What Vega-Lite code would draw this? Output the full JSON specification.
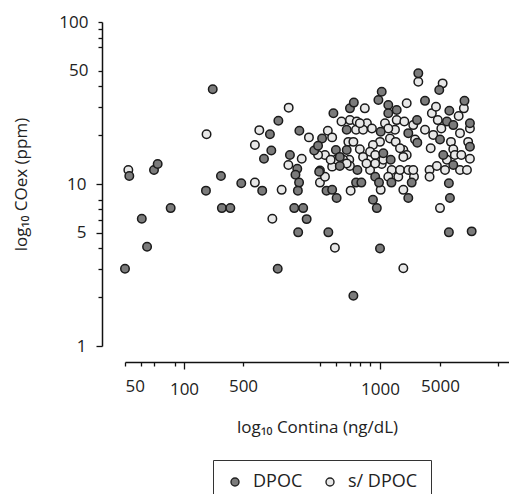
{
  "$schema": "https://vega.github.io/schema/vega-lite/v6.json",
  "width": 407,
  "height": 324,
  "autosize": {"type": "none"},
  "padding": {"left": 102, "top": 22, "right": 0, "bottom": 148},
  "background": "white",
  "config": {
    "view": {"stroke": null},
    "font": "Open Sans",
    "axis": {"labelFont": "Open Sans", "titleFont": "Open Sans", "labelColor": "#222", "titleColor": "#222", "titleFontWeight": "normal", "domainColor": "#111", "tickColor": "#111", "domainWidth": 1.5, "tickWidth": 1.3, "grid": false, "labelOverlap": false}
  },
  "datasets": {
    "pts": [
      {"x": 52, "y": 12.2, "g": "s/ DPOC"},
      {"x": 185, "y": 20.3, "g": "s/ DPOC"},
      {"x": 531, "y": 10.2, "g": "s/ DPOC"},
      {"x": 580, "y": 6.1, "g": "s/ DPOC"},
      {"x": 531, "y": 17.4, "g": "s/ DPOC"},
      {"x": 543, "y": 21.5, "g": "s/ DPOC"},
      {"x": 608, "y": 9.2, "g": "s/ DPOC"},
      {"x": 630, "y": 29.6, "g": "s/ DPOC"},
      {"x": 698, "y": 19.4, "g": "s/ DPOC"},
      {"x": 629, "y": 13.1, "g": "s/ DPOC"},
      {"x": 673, "y": 14.3, "g": "s/ DPOC"},
      {"x": 796, "y": 4.04, "g": "s/ DPOC"},
      {"x": 1870, "y": 3.02, "g": "s/ DPOC"},
      {"x": 5000, "y": 7.1, "g": "s/ DPOC"},
      {"x": 1870, "y": 9.2, "g": "s/ DPOC"},
      {"x": 862, "y": 9.1, "g": "s/ DPOC"},
      {"x": 738, "y": 10.2, "g": "s/ DPOC"},
      {"x": 757, "y": 11.1, "g": "s/ DPOC"},
      {"x": 768, "y": 21.3, "g": "s/ DPOC"},
      {"x": 785, "y": 19.4, "g": "s/ DPOC"},
      {"x": 757, "y": 15.1, "g": "s/ DPOC"},
      {"x": 800, "y": 14.1, "g": "s/ DPOC"},
      {"x": 785, "y": 12.8, "g": "s/ DPOC"},
      {"x": 823, "y": 24.3, "g": "s/ DPOC"},
      {"x": 926, "y": 29.3, "g": "s/ DPOC"},
      {"x": 859, "y": 24.8, "g": "s/ DPOC"},
      {"x": 889, "y": 24.3, "g": "s/ DPOC"},
      {"x": 886, "y": 21.6, "g": "s/ DPOC"},
      {"x": 852, "y": 18.2, "g": "s/ DPOC"},
      {"x": 874, "y": 18.2, "g": "s/ DPOC"},
      {"x": 903, "y": 16.4, "g": "s/ DPOC"},
      {"x": 918, "y": 14.7, "g": "s/ DPOC"},
      {"x": 856, "y": 14.1, "g": "s/ DPOC"},
      {"x": 859, "y": 12.9, "g": "s/ DPOC"},
      {"x": 951, "y": 12.2, "g": "s/ DPOC"},
      {"x": 934, "y": 13.4, "g": "s/ DPOC"},
      {"x": 1019, "y": 9.2, "g": "s/ DPOC"},
      {"x": 936, "y": 23.7, "g": "s/ DPOC"},
      {"x": 960, "y": 22.0, "g": "s/ DPOC"},
      {"x": 1143, "y": 23.7, "g": "s/ DPOC"},
      {"x": 1000, "y": 18.2, "g": "s/ DPOC"},
      {"x": 965, "y": 17.4, "g": "s/ DPOC"},
      {"x": 951, "y": 15.8, "g": "s/ DPOC"},
      {"x": 976, "y": 15.1, "g": "s/ DPOC"},
      {"x": 1047, "y": 13.3, "g": "s/ DPOC"},
      {"x": 1369, "y": 12.2, "g": "s/ DPOC"},
      {"x": 1249, "y": 11.1, "g": "s/ DPOC"},
      {"x": 1633, "y": 11.1, "g": "s/ DPOC"},
      {"x": 1710, "y": 12.2, "g": "s/ DPOC"},
      {"x": 2136, "y": 12.2, "g": "s/ DPOC"},
      {"x": 2488, "y": 11.1, "g": "s/ DPOC"},
      {"x": 2440, "y": 12.2, "g": "s/ DPOC"},
      {"x": 1495, "y": 21.6, "g": "s/ DPOC"},
      {"x": 1307, "y": 19.1, "g": "s/ DPOC"},
      {"x": 1523, "y": 18.2, "g": "s/ DPOC"},
      {"x": 1565, "y": 24.8, "g": "s/ DPOC"},
      {"x": 1920, "y": 24.3, "g": "s/ DPOC"},
      {"x": 2047, "y": 31.5, "g": "s/ DPOC"},
      {"x": 1870, "y": 16.2, "g": "s/ DPOC"},
      {"x": 2047, "y": 15.1, "g": "s/ DPOC"},
      {"x": 2440, "y": 23.1, "g": "s/ DPOC"},
      {"x": 2560, "y": 18.8, "g": "s/ DPOC"},
      {"x": 2794, "y": 42.8, "g": "s/ DPOC"},
      {"x": 3344, "y": 21.6, "g": "s/ DPOC"},
      {"x": 3895, "y": 16.6, "g": "s/ DPOC"},
      {"x": 3780, "y": 12.2, "g": "s/ DPOC"},
      {"x": 3780, "y": 11.1, "g": "s/ DPOC"},
      {"x": 4170, "y": 20.1, "g": "s/ DPOC"},
      {"x": 4020, "y": 27.3, "g": "s/ DPOC"},
      {"x": 4490, "y": 30.0, "g": "s/ DPOC"},
      {"x": 5160, "y": 41.8, "g": "s/ DPOC"},
      {"x": 4710, "y": 24.8, "g": "s/ DPOC"},
      {"x": 5080, "y": 22.0, "g": "s/ DPOC"},
      {"x": 4600, "y": 12.9, "g": "s/ DPOC"},
      {"x": 5310, "y": 12.2, "g": "s/ DPOC"},
      {"x": 5430, "y": 14.1, "g": "s/ DPOC"},
      {"x": 5700, "y": 18.2, "g": "s/ DPOC"},
      {"x": 5860, "y": 16.4, "g": "s/ DPOC"},
      {"x": 5970, "y": 15.1, "g": "s/ DPOC"},
      {"x": 6250, "y": 26.3, "g": "s/ DPOC"},
      {"x": 6350, "y": 20.6, "g": "s/ DPOC"},
      {"x": 6350, "y": 12.2, "g": "s/ DPOC"},
      {"x": 6450, "y": 15.1, "g": "s/ DPOC"},
      {"x": 6650, "y": 29.3, "g": "s/ DPOC"},
      {"x": 7150, "y": 22.0, "g": "s/ DPOC"},
      {"x": 7000, "y": 18.2, "g": "s/ DPOC"},
      {"x": 7150, "y": 14.3, "g": "s/ DPOC"},
      {"x": 6900, "y": 12.2, "g": "s/ DPOC"},
      {"x": 731, "y": 15.1, "g": "s/ DPOC"},
      {"x": 779, "y": 14.1, "g": "s/ DPOC"},
      {"x": 830, "y": 14.1, "g": "s/ DPOC"},
      {"x": 845, "y": 13.4, "g": "s/ DPOC"},
      {"x": 918, "y": 21.6, "g": "s/ DPOC"},
      {"x": 903, "y": 23.7, "g": "s/ DPOC"},
      {"x": 1249, "y": 22.0, "g": "s/ DPOC"},
      {"x": 1710, "y": 16.6, "g": "s/ DPOC"},
      {"x": 1870, "y": 14.7, "g": "s/ DPOC"},
      {"x": 1093, "y": 14.1, "g": "s/ DPOC"},
      {"x": 976, "y": 13.4, "g": "s/ DPOC"},
      {"x": 50, "y": 3.0, "g": "DPOC"},
      {"x": 52.6, "y": 11.2, "g": "DPOC"},
      {"x": 60.9, "y": 6.1, "g": "DPOC"},
      {"x": 64.8, "y": 4.1, "g": "DPOC"},
      {"x": 70.3, "y": 12.2, "g": "DPOC"},
      {"x": 73.4, "y": 13.3, "g": "DPOC"},
      {"x": 85.5, "y": 7.1, "g": "DPOC"},
      {"x": 219, "y": 38.4, "g": "DPOC"},
      {"x": 182, "y": 9.1, "g": "DPOC"},
      {"x": 274, "y": 11.2, "g": "DPOC"},
      {"x": 281, "y": 7.1, "g": "DPOC"},
      {"x": 354, "y": 7.1, "g": "DPOC"},
      {"x": 477, "y": 10.1, "g": "DPOC"},
      {"x": 551, "y": 9.1, "g": "DPOC"},
      {"x": 596, "y": 3.0, "g": "DPOC"},
      {"x": 573, "y": 20.3, "g": "DPOC"},
      {"x": 577, "y": 16.1, "g": "DPOC"},
      {"x": 556, "y": 14.3, "g": "DPOC"},
      {"x": 598, "y": 24.6, "g": "DPOC"},
      {"x": 665, "y": 21.3, "g": "DPOC"},
      {"x": 790, "y": 27.3, "g": "DPOC"},
      {"x": 634, "y": 15.1, "g": "DPOC"},
      {"x": 658, "y": 12.4, "g": "DPOC"},
      {"x": 652, "y": 11.4, "g": "DPOC"},
      {"x": 664, "y": 10.2, "g": "DPOC"},
      {"x": 660, "y": 9.1, "g": "DPOC"},
      {"x": 648, "y": 7.1, "g": "DPOC"},
      {"x": 678, "y": 7.1, "g": "DPOC"},
      {"x": 690, "y": 6.07, "g": "DPOC"},
      {"x": 661, "y": 5.03, "g": "DPOC"},
      {"x": 770, "y": 5.03, "g": "DPOC"},
      {"x": 1000, "y": 4.0, "g": "DPOC"},
      {"x": 874, "y": 2.04, "g": "DPOC"},
      {"x": 5560, "y": 5.03, "g": "DPOC"},
      {"x": 7300, "y": 5.1, "g": "DPOC"},
      {"x": 5630, "y": 8.2, "g": "DPOC"},
      {"x": 5560, "y": 10.1, "g": "DPOC"},
      {"x": 984, "y": 7.1, "g": "DPOC"},
      {"x": 965, "y": 8.0, "g": "DPOC"},
      {"x": 2136, "y": 8.2, "g": "DPOC"},
      {"x": 763, "y": 9.1, "g": "DPOC"},
      {"x": 803, "y": 8.2, "g": "DPOC"},
      {"x": 785, "y": 9.2, "g": "DPOC"},
      {"x": 738, "y": 12.1, "g": "DPOC"},
      {"x": 717, "y": 16.1, "g": "DPOC"},
      {"x": 746, "y": 19.1, "g": "DPOC"},
      {"x": 731, "y": 17.2, "g": "DPOC"},
      {"x": 800, "y": 16.2, "g": "DPOC"},
      {"x": 816, "y": 12.9, "g": "DPOC"},
      {"x": 845, "y": 21.6, "g": "DPOC"},
      {"x": 859, "y": 29.3, "g": "DPOC"},
      {"x": 876, "y": 31.8, "g": "DPOC"},
      {"x": 845, "y": 16.2, "g": "DPOC"},
      {"x": 892, "y": 12.2, "g": "DPOC"},
      {"x": 886, "y": 10.2, "g": "DPOC"},
      {"x": 910, "y": 10.2, "g": "DPOC"},
      {"x": 976, "y": 11.1, "g": "DPOC"},
      {"x": 995, "y": 10.2, "g": "DPOC"},
      {"x": 992, "y": 33.0, "g": "DPOC"},
      {"x": 1047, "y": 37.1, "g": "DPOC"},
      {"x": 1249, "y": 30.7, "g": "DPOC"},
      {"x": 1249, "y": 27.3, "g": "DPOC"},
      {"x": 1565, "y": 28.6, "g": "DPOC"},
      {"x": 1019, "y": 21.0, "g": "DPOC"},
      {"x": 1093, "y": 15.5, "g": "DPOC"},
      {"x": 1332, "y": 14.1, "g": "DPOC"},
      {"x": 1359, "y": 10.2, "g": "DPOC"},
      {"x": 2340, "y": 10.2, "g": "DPOC"},
      {"x": 2136, "y": 20.6, "g": "DPOC"},
      {"x": 2720, "y": 18.0, "g": "DPOC"},
      {"x": 2700, "y": 24.8, "g": "DPOC"},
      {"x": 2794, "y": 48.2, "g": "DPOC"},
      {"x": 3344, "y": 32.6, "g": "DPOC"},
      {"x": 4900, "y": 38.0, "g": "DPOC"},
      {"x": 5000, "y": 18.8, "g": "DPOC"},
      {"x": 5200, "y": 15.1, "g": "DPOC"},
      {"x": 5590, "y": 28.3, "g": "DPOC"},
      {"x": 5430, "y": 24.3, "g": "DPOC"},
      {"x": 5860, "y": 23.1, "g": "DPOC"},
      {"x": 5860, "y": 13.1, "g": "DPOC"},
      {"x": 6700, "y": 32.6, "g": "DPOC"},
      {"x": 7150, "y": 23.7, "g": "DPOC"},
      {"x": 7150, "y": 17.0, "g": "DPOC"},
      {"x": 735, "y": 11.9, "g": "DPOC"},
      {"x": 816, "y": 14.7, "g": "DPOC"}
    ]
  },
  "layer": [
    {
      "mark": {"type": "rule", "stroke": "#555", "strokeWidth": 1.6, "strokeDash": [2.5, 2.5]},
      "encoding": {
        "x": {"datum": 50, "type": "quantitative",
          "scale": {"type": "log", "domain": [50, 100, 500, 1000, 5000, 10000, 11500], "range": [23, 82, 141, 278, 338, 396, 407], "nice": false}},
        "x2": {"datum": 11500},
        "y": {"datum": 10, "type": "quantitative",
          "scale": {"type": "log", "domain": [1, 100], "nice": false}}
      }
    },
    {
      "data": {"name": "pts"},
      "mark": {"type": "circle", "size": 72, "opacity": 1, "stroke": "#1a1a1a", "strokeWidth": 1.5},
      "encoding": {
        "x": {"field": "x", "type": "quantitative",
          "scale": {"type": "log", "domain": [50, 100, 500, 1000, 5000, 10000, 11500], "range": [23, 82, 141, 278, 338, 396, 407], "nice": false},
          "axis": {"orient": "bottom", "offset": 16,
            "values": [50, 60, 70, 90, 100, 500, 738, 802, 858, 903, 951, 1000, 5000, 10000],
            "labelExpr": "indexof([50, 100, 500, 1000, 5000], datum.value) >= 0 ? format(datum.value, 'd') : ''",
            "labelFontSize": 17, "labelPadding": 12,
            "tickSize": {"condition": {"test": "datum.value == 100 || datum.value == 1000", "value": 7}, "value": 4},
            "title": "log₁₀ Contina (ng/dL)", "titleFontSize": 17, "titlePadding": 22}},
        "y": {"field": "y", "type": "quantitative",
          "scale": {"type": "log", "domain": [1, 100], "nice": false},
          "axis": {"orient": "left",
            "values": [1, 2, 3, 4, 5, 6, 7, 8, 10, 20, 30, 40, 50, 70, 80, 90, 100],
            "labelExpr": "indexof([1, 5, 10, 50, 100], datum.value) >= 0 ? format(datum.value, 'd') : ''",
            "labelFontSize": 17, "labelPadding": 10,
            "tickSize": {"condition": {"test": "datum.value == 1 || datum.value == 5 || datum.value == 10", "value": 6}, "value": 4},
            "title": "log₁₀ COex (ppm)", "titleFontSize": 17, "titlePadding": 28}},
        "fill": {"field": "g", "type": "nominal",
          "scale": {"domain": ["DPOC", "s/ DPOC"], "range": ["#7b7b7b", "#e8e8e8"]},
          "legend": {"title": null, "orient": "none", "legendX": 111, "legendY": 438, "direction": "horizontal",
            "strokeColor": "#333", "fillColor": "white", "padding": 13, "labelFontSize": 18, "labelFont": "Open Sans", "labelColor": "#222",
            "symbolType": "circle", "symbolSize": 64, "symbolStrokeColor": "#222", "symbolStrokeWidth": 1.4, "symbolOpacity": 1,
            "columnPadding": 18, "labelOffset": 9}}
      }
    }
  ]
}
